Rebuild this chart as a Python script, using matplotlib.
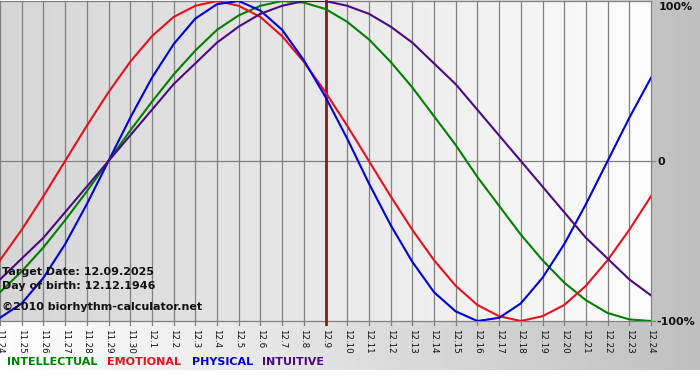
import numpy as np
import matplotlib
matplotlib.use("Agg")
import matplotlib.pyplot as plt

# ---- data ----
dates = ["11.24", "11.25", "11.26", "11.27", "11.28", "11.29", "11.30",
         "12.1", "12.2", "12.3", "12.4", "12.5", "12.6", "12.7", "12.8", "12.9",
         "12.10", "12.11", "12.12", "12.13", "12.14", "12.15", "12.16", "12.17",
         "12.18", "12.19", "12.20", "12.21", "12.22", "12.23", "12.24"]
target_label = "12.9"

intellectual = [-0.82, -0.69, -0.54, -0.37, -0.19, 0.0, 0.19, 0.37, 0.54, 0.69, 0.82,
                0.91, 0.97, 1.0, 0.99, 0.95, 0.87, 0.76, 0.62, 0.46, 0.28, 0.10,
                -0.10, -0.28, -0.46, -0.62, -0.76, -0.87, -0.95, -0.99, -1.0]
emotional = [-0.62, -0.43, -0.22, 0.0, 0.22, 0.43, 0.62, 0.78, 0.90, 0.97, 1.0,
             0.97, 0.90, 0.78, 0.62, 0.43, 0.22, 0.0, -0.22, -0.43, -0.62, -0.78,
             -0.90, -0.97, -1.0, -0.97, -0.90, -0.78, -0.62, -0.43, -0.22]
physical = [-0.98, -0.89, -0.73, -0.52, -0.27, 0.0, 0.27, 0.52, 0.73, 0.89, 0.98,
            1.0, 0.94, 0.82, 0.63, 0.40, 0.14, -0.14, -0.40, -0.63, -0.82, -0.94,
            -1.0, -0.98, -0.89, -0.73, -0.52, -0.27, 0.0, 0.27, 0.52]
intuitive = [-0.74, -0.61, -0.48, -0.32, -0.16, 0.0, 0.16, 0.32, 0.48, 0.61, 0.74,
             0.84, 0.92, 0.97, 1.0, 1.0, 0.97, 0.92, 0.84, 0.74, 0.61, 0.48,
             0.32, 0.16, 0.0, -0.16, -0.32, -0.48, -0.61, -0.74, -0.84]

series_names = ["INTELLECTUAL", "EMOTIONAL", "PHYSICAL", "INTUITIVE"]
series_colors = ["#008000", "#e8101c", "#0000dd", "#4b0a82"]
legend_x = [7, 107, 192, 262]

info_lines = ["Target Date: 12.09.2025", "Day of birth: 12.12.1946"]
copyright_text = "\u00a92010 biorhythm-calculator.net"

W, H = 700, 380
fig = plt.figure(figsize=(W / 100, H / 100), dpi=100)
fig.patch.set_facecolor("white")

# background gradient (outer)
bg = fig.add_axes([0, 0, 1, 1], zorder=-5)
g = np.linspace(255, 192, 256) / 255.0
bg_img = np.repeat(np.dstack([g, g, g]), 2, axis=0)
bg.imshow(bg_img, extent=[0, W, 370, 0], aspect="auto", interpolation="bilinear")
bg.set_xlim(0, W)
bg.set_ylim(H, 0)
bg.axis("off")

# plot axes
ax = fig.add_axes([0 / W, (H - 321) / H, 651 / W, 320 / H], zorder=1)
x = np.arange(len(dates))
gi = np.linspace(0xd6, 0xfc, 256) / 255.0
ax_img = np.repeat(np.dstack([gi, gi, gi]), 2, axis=0)
ax.imshow(ax_img, extent=[0, len(dates) - 1, -1, 1], aspect="auto",
          interpolation="bilinear", zorder=0)

for xi in x:
    ax.axvline(xi, ymin=-0.013, ymax=1, color="#808080", lw=0.9, zorder=1, clip_on=False)
ax.axhline(0, xmin=0, xmax=1.006, color="#808080", lw=0.9, zorder=1, clip_on=False)
ax.axhline(-1, xmin=0, xmax=1.006, color="#808080", lw=0.9, zorder=1, clip_on=False)
ax.axhline(1, color="#808080", lw=0.9, zorder=1)

ti = dates.index(target_label)
ax.axvline(ti, ymin=-0.008, ymax=1, color="#8a1a1a", lw=2.0, zorder=2, clip_on=False)

for vals, col in zip([intellectual, emotional, physical, intuitive], series_colors):
    ax.plot(x, vals, color=col, lw=1.5, zorder=3, solid_joinstyle="round")

ax.set_xlim(0, len(dates) - 1)
ax.set_ylim(-1, 1)
for s in ax.spines.values():
    s.set_visible(False)
ax.set_yticks([])
ax.set_xticks(x)
ax.set_xticklabels(dates, rotation=270, fontsize=6.3, color="#111111")
ax.tick_params(axis="x", length=0, pad=6)

# info text
fig.text(2 / W, 1 - 272 / H, info_lines[0], fontsize=8, fontweight="bold",
         va="center", ha="left", color="#111111", zorder=5)
fig.text(2 / W, 1 - 286 / H, info_lines[1], fontsize=8, fontweight="bold",
         va="center", ha="left", color="#111111", zorder=5)
fig.text(2 / W, 1 - 307 / H, copyright_text, fontsize=8, fontweight="bold",
         va="center", ha="left", color="#111111", zorder=5)

# right side labels
fig.text(659 / W, 1 - 7 / H, "100%", fontsize=8, fontweight="bold", va="center", ha="left", color="#111111")
fig.text(658 / W, 1 - 162 / H, "0", fontsize=8, fontweight="bold", va="center", ha="left", color="#111111")
fig.text(656 / W, 1 - 322 / H, "-100%", fontsize=8, fontweight="bold", va="center", ha="left", color="#111111")

# legend as colored words
for name, col, lx in zip(series_names, series_colors, legend_x):
    fig.text(lx / W, 1 - 362 / H, name, fontsize=8, fontweight="bold", va="center", ha="left", color=col)

fig.savefig("out.png", dpi=100)
